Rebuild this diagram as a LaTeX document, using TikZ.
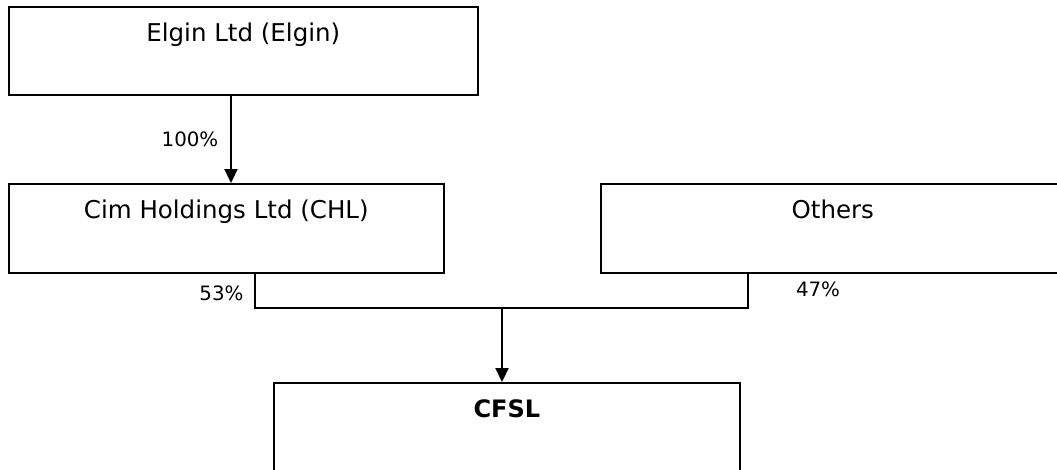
\documentclass[tikz,border=0pt]{standalone}
\usepackage{fontspec}
\setmainfont{DejaVu Sans}
\usetikzlibrary{arrows.meta}
\begin{document}
\begin{tikzpicture}[x=1pt,y=-1pt,
  box/.style={draw, line width=1.6pt, rectangle, anchor=north west, inner sep=0pt},
  boxtext/.style={anchor=base, font=\fontsize{24.5}{28}\selectfont, inner sep=0pt},
  pct/.style={anchor=base, font=\fontsize{19.8}{23}\selectfont, inner sep=0pt},
  conn/.style={line width=1.6pt},
  arr/.style={line width=2.2pt, -{Triangle[width=13pt,length=14pt]}}]
\useasboundingbox (0,0) rectangle (1057,469);
\node[box, minimum width=469pt, minimum height=88pt] (elgin) at (8,6) {};
\node[boxtext] (elgint) at ([yshift=-35pt]elgin.north) {Elgin Ltd (Elgin)};
\node[box, minimum width=435pt, minimum height=89pt] (chl) at (8,183) {};
\node[boxtext] (chlt) at ([yshift=-35pt]chl.north) {Cim Holdings Ltd (CHL)};
\node[box, minimum width=464pt, minimum height=89pt] (others) at (600,183) {};
\node[boxtext] (otherst) at ([yshift=-35pt]others.north) {Others};
\node[box, minimum width=466pt, minimum height=100pt] (cfsl) at (273,382) {};
\node[boxtext, font=\fontsize{24}{28}\selectfont\bfseries] (cfslt) at ([yshift=-35pt]cfsl.north) {CFSL};
\coordinate (a1) at (231,0);
\draw[arr] (elgin.south -| a1) -- (chl.north -| a1);
\coordinate (j1) at (255,308);
\coordinate (j2) at (748,308);
\coordinate (m) at (502,308);
\draw[conn] (chl.south -| j1) -- (j1) -- (j2) -- (others.south -| j2);
\draw[arr] (m) -- (cfsl.north -| m);
\node[pct] (p100) at (190,146.5) {100\%};
\node[pct] (p53) at (221.5,300.5) {53\%};
\node[pct] (p47) at (818,296) {47\%};
\end{tikzpicture}
\end{document}
